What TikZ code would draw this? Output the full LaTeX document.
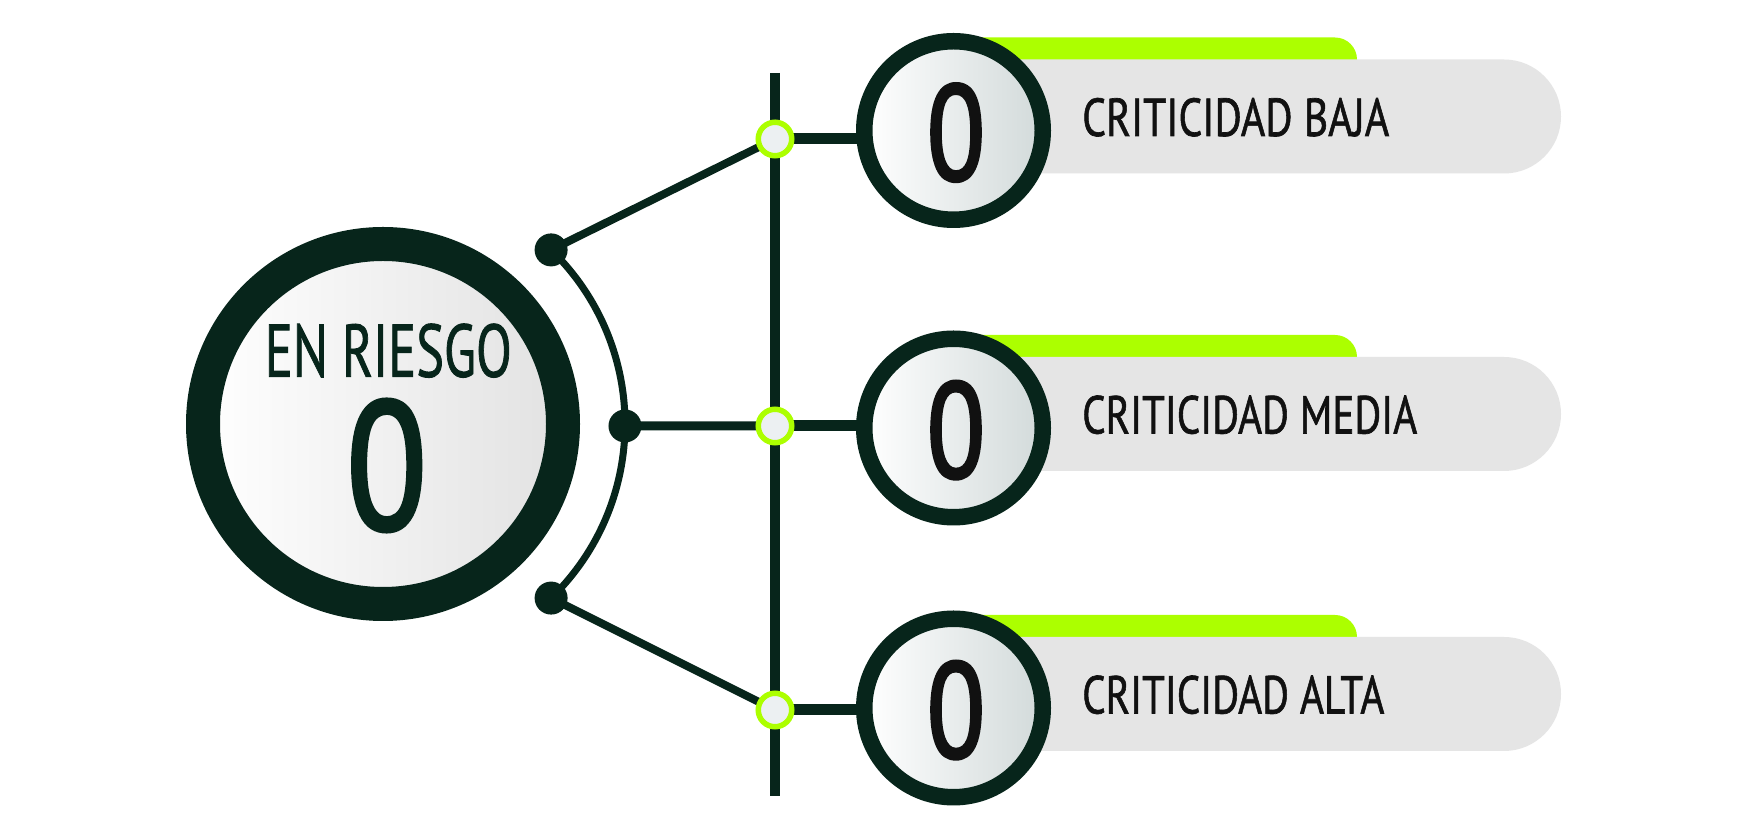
\documentclass[tikz,border=0pt]{standalone}
\usepackage{fontspec}
\usepackage{graphicx}
\usetikzlibrary{calc,backgrounds}
\newfontfamily\cond[FakeBold=1.3]{PT Sans}
\newfontfamily\condnum[FakeBold=2.6]{PT Sans}
\definecolor{dk}{RGB}{7,37,27}
\definecolor{lime}{RGB}{172,255,0}
\definecolor{pillgrey}{RGB}{229,229,229}
\definecolor{ringfill}{RGB}{236,240,242}
\definecolor{txt}{RGB}{17,17,17}
\definecolor{shadeR}{RGB}{210,218,218}
\definecolor{bigR}{RGB}{226,226,226}
\begin{document}
\begin{tikzpicture}[x=1pt,y=1pt,
  bigcirc/.style={circle, draw=dk, line width=34pt, minimum size=360pt, inner sep=0pt, left color=white, right color=bigR},
  smallcirc/.style={circle, draw=dk, line width=16.5pt, minimum size=178.5pt, inner sep=0pt, left color=white, right color=shadeR},
  dotnode/.style={circle, fill=dk, minimum size=33pt, inner sep=0pt},
  gring/.style={circle, draw=lime, fill=ringfill, line width=5.5pt, minimum size=33.5pt, inner sep=0pt},
  diag/.style={draw=dk, line width=8pt},
  arcline/.style={draw=dk, line width=7pt},
  vline/.style={draw=dk, line width=10pt},
  hline/.style={draw=dk, line width=11pt},
  lbl/.style={inner sep=0pt, anchor=base west, text=txt, font=\cond},
  num/.style={inner sep=0pt, anchor=base, text=txt, font=\condnum},
  pillshape/.style={fill=pillgrey, rounded corners=57pt},
  barshape/.style={fill=lime, rounded corners=22pt},
]
\path[use as bounding box] (0,0) rectangle (1743,832);

% main circle and texts
\node[bigcirc] (B) at (383,408) {};
\node[num, text=dk, font=\cond] (riesgo) at (388.3,455.3) {\resizebox{247pt}{53pt}{EN RIESGO}};
\node[num, text=dk] (bigzero) at (386.7,303) {\resizebox{80pt}{129pt}{0}};

% junction dots on the arc
\node[dotnode] (d1) at ($(B.center)+(46:242)$) {};
\node[dotnode] (d2) at ($(B.center)+(-0.47:242)$) {};
\node[dotnode] (d3) at ($(B.center)+(-46:242)$) {};

% vertical bus
\coordinate (vtop) at (775,759);
\coordinate (vbot) at (775,36);

% lime rings
\node[gring] (g1) at (775,693) {};
\node[gring] (g2) at (775,406) {};
\node[gring] (g3) at (775,122) {};

% small circles
\node[smallcirc] (c1) at (953.5,701.5) {};
\node[smallcirc] (c2) at (953.5,404) {};
\node[smallcirc] (c3) at (953.5,124) {};

% numbers
\node[num] (n1) at ($(c1.center)+(2.5,-49.3)$) {\resizebox{58pt}{96pt}{0}};
\node[num] (n2) at ($(c2.center)+(2.5,-49.3)$) {\resizebox{58pt}{96pt}{0}};
\node[num] (n3) at ($(c3.center)+(2.5,-49.3)$) {\resizebox{58pt}{96pt}{0}};

% labels
\node[lbl] (l1) at ($(c1.center)+(128.5,-5.5)$) {\resizebox{307pt}{38pt}{CRITICIDAD BAJA}};
\node[lbl] (l2) at ($(c2.center)+(128.5,-5.5)$) {\resizebox{335pt}{38pt}{CRITICIDAD MEDIA}};
\node[lbl] (l3) at ($(c3.center)+(128.5,-5.5)$) {\resizebox{302pt}{38pt}{CRITICIDAD ALTA}};

\begin{scope}[on background layer]
  \fill[white] (0,0) rectangle (1743,832);
  % pills
  \foreach \c in {c1,c2,c3}{
    \path[barshape] ($(\c.center)+(0,40)$) rectangle ($(\c.center)+(403.5,93)$);
    \path[pillshape] ($(\c.center)+(0,-43)$) rectangle ($(\c.center)+(607.5,71)$);
  }
  % arc through the dots
  \draw[arcline] (d1.center) arc[start angle=46, end angle=-46, radius=242];
  % diagonals and middle link
  \draw[diag] (d1.center) -- (g1.center);
  \draw[diag, line width=9pt] (d2.center) -- (g2.center);
  \draw[diag] (d3.center) -- (g3.center);
  % vertical bus
  \draw[vline] (vtop) -- (vbot);
  % horizontal links to circles
  \draw[hline] (g1.center) -- (g1.center -| c1.center);
  \draw[hline] (g2.center) -- (g2.center -| c2.center);
  \draw[hline] (g3.center) -- (g3.center -| c3.center);
\end{scope}
\end{tikzpicture}
\end{document}
